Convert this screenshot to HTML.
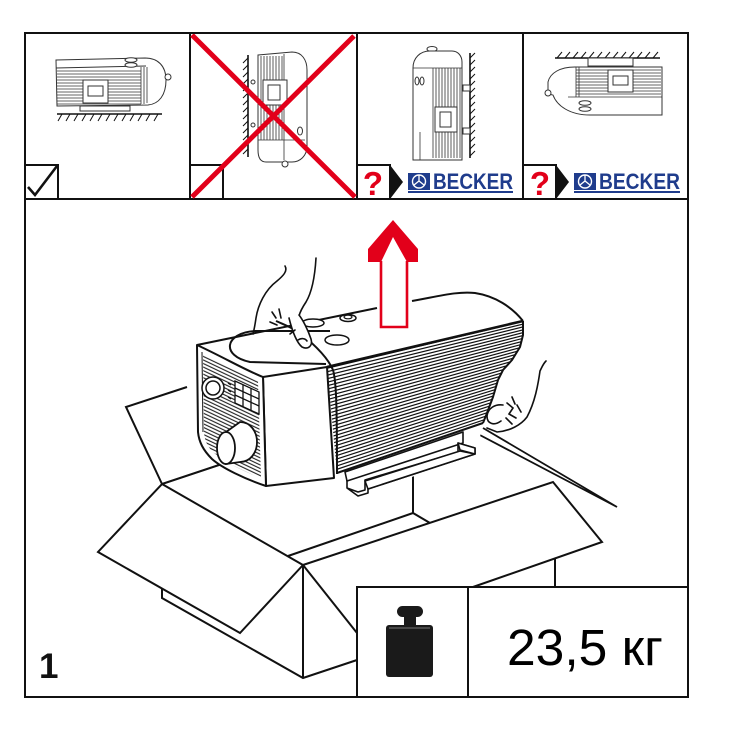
<!DOCTYPE html>
<html><head><meta charset="utf-8"><style>
html,body{margin:0;padding:0;background:#fff;}
svg{display:block;}
</style></head><body>
<svg width="730" height="729" viewBox="0 0 730 729" xmlns="http://www.w3.org/2000/svg">
<defs>
<pattern id="hatchA" width="20" height="3.2" patternUnits="userSpaceOnUse" patternTransform="rotate(25.4)">
<line x1="0" y1="1.2" x2="20" y2="1.2" stroke="#111" stroke-width="1"/>
</pattern>
<clipPath id="finClip"><path d="M327,367 L523,321 L523,335 L520,347 L512,360 L503,370 L498,380 L493,397 L487,413 L483,423 L337,473 Z"/></clipPath>
</defs>
<rect width="730" height="729" fill="#fff"/>

<!-- ===== TOP ROW THUMBNAILS ===== -->
<!-- Panel 1 -->
<g stroke="#333" stroke-width="1" fill="none">
<path d="M56,60 L145,58 C158,58 166,66 166,80 C166,95 159,104 148,105 L57,106 Z" fill="#fff"/>
<path d="M56,68 L146,66"/>
<path d="M57,71H141M57,74H141M57,77H141M57,80H141M57,83H141M57,86H141M57,89H141M57,92H141M57,95H141M57,98H141M57,101H141M57,104H141" stroke-width="0.8"/>
<path d="M141,67V104M144,67V104M147,67V103" stroke-width="0.8"/>
<ellipse cx="131" cy="60" rx="6" ry="2.3" fill="#fff"/>
<ellipse cx="131" cy="65" rx="6" ry="2.3" fill="#fff"/>
<circle cx="168" cy="77" r="3" fill="#fff"/>
<rect x="83" y="80" width="25" height="23" fill="#fff"/>
<rect x="88" y="86" width="15" height="10" fill="#fff"/>
<rect x="80" y="106" width="50" height="5" fill="#fff"/>
<path d="M57,114H162" stroke-width="1.6" stroke="#111"/>
<path d="M62,114l-4,7M70,114l-4,7M78,114l-4,7M86,114l-4,7M94,114l-4,7M102,114l-4,7M110,114l-4,7M118,114l-4,7M126,114l-4,7M134,114l-4,7M142,114l-4,7M150,114l-4,7M158,114l-4,7" stroke="#111"/>
</g>
<!-- Panel 2 -->
<g stroke="#333" stroke-width="1" fill="none">
<path d="M248,55V157" stroke-width="1.6" stroke="#111"/>
<path d="M248,58l-5,5M248,65l-5,5M248,72l-5,5M248,79l-5,5M248,86l-5,5M248,93l-5,5M248,100l-5,5M248,107l-5,5M248,114l-5,5M248,121l-5,5M248,128l-5,5M248,135l-5,5M248,142l-5,5M248,149l-5,5" stroke="#111"/>
<path d="M258,55 L292,52 C302,52 307,60 307,70 L307,146 C307,156 300,162 292,162 L266,162 C261,162 258,158 258,150 Z" fill="#fff"/>
<path d="M261,56V140M264,56V140M267,56V140M270,56V140M273,56V140M276,56V140M279,56V140M282,56V140" stroke-width="0.8"/>
<path d="M284,54V160M258,140H305" stroke-width="0.8"/>
<rect x="263" y="80" width="24" height="25" fill="#fff"/>
<rect x="268" y="85" width="12" height="15" fill="#fff"/>
<circle cx="253" cy="82" r="2" fill="#fff"/>
<circle cx="253" cy="125" r="2" fill="#fff"/>
<ellipse cx="300" cy="131" rx="2.5" ry="4"/>
<circle cx="285" cy="164" r="3" fill="#fff"/>
</g>
<!-- Panel 3 -->
<g stroke="#333" stroke-width="1" fill="none">
<path d="M470,53V158" stroke-width="1.6" stroke="#111"/>
<path d="M470,58l5,-5M470,65l5,-5M470,72l5,-5M470,79l5,-5M470,86l5,-5M470,93l5,-5M470,100l5,-5M470,107l5,-5M470,114l5,-5M470,121l5,-5M470,128l5,-5M470,135l5,-5M470,142l5,-5M470,149l5,-5M470,156l5,-5" stroke="#111"/>
<ellipse cx="432" cy="49" rx="5" ry="2.5" fill="#fff"/>
<path d="M413,160 L413,68 C413,58 420,51 430,51 L452,51 C458,51 462,56 462,62 L462,160 Z" fill="#fff"/>
<path d="M413,68H462" stroke-width="0.8"/>
<path d="M433,68V158M436,68V158M439,68V158M442,68V158M445,68V158M448,68V158M451,68V158M454,68V158M457,68V158M460,68V158" stroke-width="0.8"/>
<path d="M420,132V160" stroke-width="0.8"/>
<ellipse cx="417" cy="81" rx="2" ry="4"/>
<ellipse cx="422" cy="81" rx="2" ry="4"/>
<rect x="435" y="107" width="22" height="25" fill="#fff"/>
<rect x="440" y="112" width="11" height="15" fill="#fff"/>
<rect x="463" y="85" width="7" height="6" fill="#fff"/>
<rect x="463" y="128" width="7" height="6" fill="#fff"/>
</g>
<!-- Panel 4 -->
<g stroke="#333" stroke-width="1" fill="none">
<path d="M555,58H660" stroke-width="1.6" stroke="#111"/>
<path d="M557,58l5,-6M565,58l5,-6M573,58l5,-6M581,58l5,-6M589,58l5,-6M597,58l5,-6M605,58l5,-6M613,58l5,-6M621,58l5,-6M629,58l5,-6M637,58l5,-6M645,58l5,-6M653,58l5,-6" stroke="#111"/>
<rect x="588" y="58" width="45" height="8" fill="#fff"/>
<path d="M575,67 L662,67 L662,115 L590,115 C570,115 557,106 553,95 L548,94 L548,82 C550,73 560,67 575,67 Z" fill="#fff"/>
<path d="M576,70H661M576,73H661M576,76H661M576,79H661M576,82H661M576,85H661M576,88H661M576,91H661M576,94H661" stroke-width="0.8"/>
<path d="M576,67V97M579,67V97M568,97H662" stroke-width="0.8"/>
<rect x="608" y="70" width="25" height="22" fill="#fff"/>
<rect x="613" y="76" width="15" height="9" fill="#fff"/>
<ellipse cx="585" cy="103" rx="6" ry="2.3" fill="#fff"/>
<ellipse cx="585" cy="109" rx="6" ry="2.3" fill="#fff"/>
<circle cx="548" cy="93" r="3" fill="#fff"/>
</g>

<!-- grid lines of top row -->
<g stroke="#111" stroke-width="2" fill="none">
<path d="M25,199H688"/>
<path d="M190,33V199M357,33V199M523,33V199"/>
<path d="M25,165H58V199"/>
<path d="M190,165H223V199"/>
<path d="M357,165H390V199"/>
<path d="M523,165H556V199"/>
</g>
<!-- checkmark -->
<path d="M28,187 L35,195 L57,166" stroke="#111" stroke-width="2.6" fill="none"/>
<!-- black arrow tabs -->
<path d="M390,165 L403,182 L390,199 Z" fill="#111"/>
<path d="M556,165 L569,182 L556,199 Z" fill="#111"/>
<!-- question marks -->
<text x="373" y="195" font-family="Liberation Sans, sans-serif" font-weight="bold" font-size="33" fill="#e2001a" text-anchor="middle">?</text>
<text x="540" y="195" font-family="Liberation Sans, sans-serif" font-weight="bold" font-size="33" fill="#e2001a" text-anchor="middle">?</text>
<!-- BECKER logos -->
<g>
<rect x="408" y="173" width="22" height="17" fill="#1f3c8c"/>
<circle cx="419" cy="181.5" r="6.5" fill="none" stroke="#fff" stroke-width="1.4"/>
<path d="M419,175V181M414,185L419,181L424,185" stroke="#fff" stroke-width="1.3" fill="none"/>
<text x="433" y="189" font-family="Liberation Sans, sans-serif" font-weight="bold" font-size="22" fill="#1f3c8c" textLength="80" lengthAdjust="spacingAndGlyphs">BECKER</text>
<rect x="408" y="191" width="105" height="2" fill="#1f3c8c"/>
</g>
<g>
<rect x="574" y="173" width="22" height="17" fill="#1f3c8c"/>
<circle cx="585" cy="181.5" r="6.5" fill="none" stroke="#fff" stroke-width="1.4"/>
<path d="M585,175V181M580,185L585,181L590,185" stroke="#fff" stroke-width="1.3" fill="none"/>
<text x="599" y="189" font-family="Liberation Sans, sans-serif" font-weight="bold" font-size="22" fill="#1f3c8c" textLength="81" lengthAdjust="spacingAndGlyphs">BECKER</text>
<rect x="574" y="191" width="106" height="2" fill="#1f3c8c"/>
</g>
<!-- red X -->
<path d="M192,35 L355,197 M354,36 L192,197" stroke="#e2001a" stroke-width="5" fill="none"/>

<!-- ===== BOX ===== -->
<g stroke="#111" stroke-width="2" fill="none" stroke-linejoin="miter">
<path d="M187,387 L126,407 L162,484 L98,552 L240,633 L303,565"/>
<path d="M162,484 L222,464"/>
<path d="M162,484 L303,565 L553,482 L602,542 L473,587"/>
<path d="M162,588 L162,598 L303,678 L357,660"/>
<path d="M303,565 V678"/>
<path d="M303,565 L357,633"/>
<path d="M288,556 L413,513 L430,523"/>
<path d="M413,513 V476"/>
<path d="M555,558 V587"/>
<path d="M476,433 L617,507 L483,428" stroke-width="1.8"/>
</g>

<!-- ===== PUMP ===== -->
<!-- silhouette -->
<path d="M197,345 L377,308 L412,301 C440,296 458,291 475,293 C495,296 512,307 523,321 L523,335 L520,347 L512,360 L503,370 L498,380 L493,397 L487,413 L483,423 L476,455 L365,493 L333,480 L266,486 C230,472 200,452 198,432 Z" fill="#fff"/>
<!-- feet -->
<g stroke="#111" stroke-width="1.6" fill="#fff" stroke-linejoin="round">
<path d="M345,472 L463,432 L463,443 L347,481 Z"/>
<path d="M347,480 L347,488 L358,492 L365,490 L365,480 L458,452 L458,443 L475,448 L475,454 L368,489 L368,493 L358,496 L347,488"/>
<path d="M365,481 L460,451 L475,454 L368,489 Z"/>
<path d="M458,443 L475,448 L475,454 L460,450 Z"/>
</g>
<!-- fins -->
<g clip-path="url(#finClip)" stroke="#111" stroke-width="1.2" fill="none">
<path d="M320,370L530,319.6M320,373.5L530,322.4M320,377L530,325.2M320,380.5L530,328.1M320,384L530,330.9M320,387.5L530,333.7M320,391L530,336.5M320,394.5L530,339.4M320,398L530,342.2M320,401.5L530,345M320,405L530,347.8M320,408.5L530,350.6M320,412L530,353.5M320,415.5L530,356.3M320,419L530,359.1M320,422.5L530,361.9M320,426L530,364.8M320,429.5L530,367.6M320,433L530,370.4M320,436.5L530,373.2M320,440L530,376.1M320,443.5L530,378.9M320,447L530,381.7M320,450.5L530,384.5M320,454L530,387.3M320,457.5L530,390.2M320,461L530,393M320,464.5L530,395.8M320,468L530,398.6M320,471.5L530,401.5M320,475L530,404.3M320,478.5L530,407.1"/>
</g>
<!-- outlines -->
<g stroke="#111" stroke-width="2" fill="none" stroke-linejoin="round">
<path d="M197,345 L377,308 M412,301 C440,296 458,291 475,293 C495,296 512,307 523,321"/>
<path d="M327,367 L523,321" stroke-width="2.6"/>
<path d="M523,321 L523,335 L520,347 L512,360 L503,370 L498,380 L493,397 L487,413 L483,423"/>
<path d="M337,473 L483,423"/>
</g>
<!-- side panel -->
<path d="M263,377 L327,367 L334,478 L266,486 Z" fill="#fff" stroke="#111" stroke-width="2" stroke-linejoin="round"/>
<!-- fan face -->
<path d="M197,345 C225,358 245,370 263,377 L266,486 C245,479 222,468 212,459 C203,450 199,442 198,432 Z" fill="#fff" stroke="#111" stroke-width="2" stroke-linejoin="round"/>
<path d="M203,354 L258,381 L261,478 C240,470 222,460 213,452 C206,445 204,438 204,430 Z" fill="url(#hatchA)"/>
<path d="M202,352 L203,432" stroke="#111" stroke-width="1" fill="none"/>
<!-- fan circle -->
<circle cx="213" cy="388" r="11" fill="#fff" stroke="#111" stroke-width="1.5"/>
<circle cx="213" cy="388" r="7" fill="#fff" stroke="#111" stroke-width="1.5"/>
<!-- vent grid -->
<g stroke="#111" stroke-width="1.3" fill="#fff">
<path d="M235,381 L259,392 L259,414 L235,403 Z"/>
<path d="M235,388 L259,399 M235,395 L259,406 M243,385 L243,407 M251,388 L251,410" fill="none"/>
<path d="M228,383 L231,385 M228,390 L231,392 M228,397 L231,399" fill="none"/>
</g>
<!-- knob -->
<path d="M226,432 L240,422 C250,422 257,431 257,442 C257,453 250,462 240,462 L226,464 Z" fill="#fff" stroke="#111" stroke-width="1.8"/>
<ellipse cx="226" cy="448" rx="9" ry="16" fill="#fff" stroke="#111" stroke-width="1.8"/>
<!-- top oval -->
<path d="M330,331 L255,331 C224,333 221,356 250,362 L326,364" fill="none" stroke="#111" stroke-width="2"/>
<!-- top ports -->
<ellipse cx="313" cy="323" rx="11" ry="4" fill="#fff" stroke="#111" stroke-width="1.5"/>
<ellipse cx="337" cy="340" rx="12" ry="5" fill="#fff" stroke="#111" stroke-width="1.5"/>
<ellipse cx="348" cy="318" rx="8" ry="3.5" fill="#fff" stroke="#111" stroke-width="1.5"/>
<ellipse cx="348" cy="317" rx="4" ry="1.8" fill="#fff" stroke="#111" stroke-width="1.2"/>
<!-- strap -->
<path d="M276,321 C285,325 293,328 300,333 C315,345 328,358 333,370 C336,380 337,400 337,474" fill="none" stroke="#111" stroke-width="2"/>
<!-- left hand -->
<g stroke="#111" stroke-width="1.6" fill="none" stroke-linecap="round">
<path d="M285,266 C288,271 283,276 277,281 C265,290 258,305 256,318 C255,325 254,330 253,334"/>
<path d="M316,258 C315,275 312,292 306,302 C302,308 300,312 299,316"/>
<path d="M289,318 C292,330 296,342 302,347 C308,350 313,346 311,339 C308,330 303,320 299,315" fill="#fff"/>
<path d="M298,340 C301,338 305,338 307,341"/>
<path d="M272,312 L276,318 M279,309 L281,318 M270,322 L277,325 M290,334 L295,330"/>
</g>
<!-- right hand -->
<g stroke="#111" stroke-width="1.6" fill="none" stroke-linecap="round">
<path d="M546,361 C543,364 542,367 540,371 C538,385 535,402 527,417 C521,425 510,431 497,432 L487,428"/>
<path d="M503,405 C495,404 488,408 487,416 C487,424 494,426 501,421" fill="#fff"/>
<path d="M507,403 L513,408 L509,414 L516,418 M512,397 L515,404 M517,405 L521,412 M506,418 L512,424"/>
</g>

<!-- red arrow -->
<path d="M381,261 L381,327 L407,327 L407,261" fill="#fff" stroke="#e2001a" stroke-width="2.6"/>
<path d="M368,262 L368,249 L393,220 L418,249 L418,262 L407,262 L393,237 L381,262 Z" fill="#e2001a"/>
<path d="M383,261 L393,241 L405,261 Z" fill="#fff"/>

<!-- ===== WEIGHT BOX ===== -->
<rect x="357" y="587" width="331" height="110" fill="#fff" stroke="#111" stroke-width="2"/>
<path d="M468,587V697" stroke="#111" stroke-width="2"/>
<g fill="#1a1a1a">
<rect x="397" y="606" width="26" height="11" rx="5.5"/>
<rect x="404" y="615" width="12" height="12"/>
<rect x="386" y="625" width="47" height="52" rx="3"/>
</g>
<path d="M389,628 H430" stroke="#777" stroke-width="1"/>
<text x="507" y="665" font-family="Liberation Sans, DejaVu Sans, sans-serif" font-size="51" fill="#000" textLength="156" lengthAdjust="spacingAndGlyphs">23,5 кг</text>

<!-- number -->
<text x="39" y="678" font-family="Liberation Sans, sans-serif" font-weight="bold" font-size="35" fill="#111">1</text>

<!-- outer frame -->
<rect x="25" y="33" width="663" height="664" fill="none" stroke="#111" stroke-width="2"/>
</svg>
</body></html>
